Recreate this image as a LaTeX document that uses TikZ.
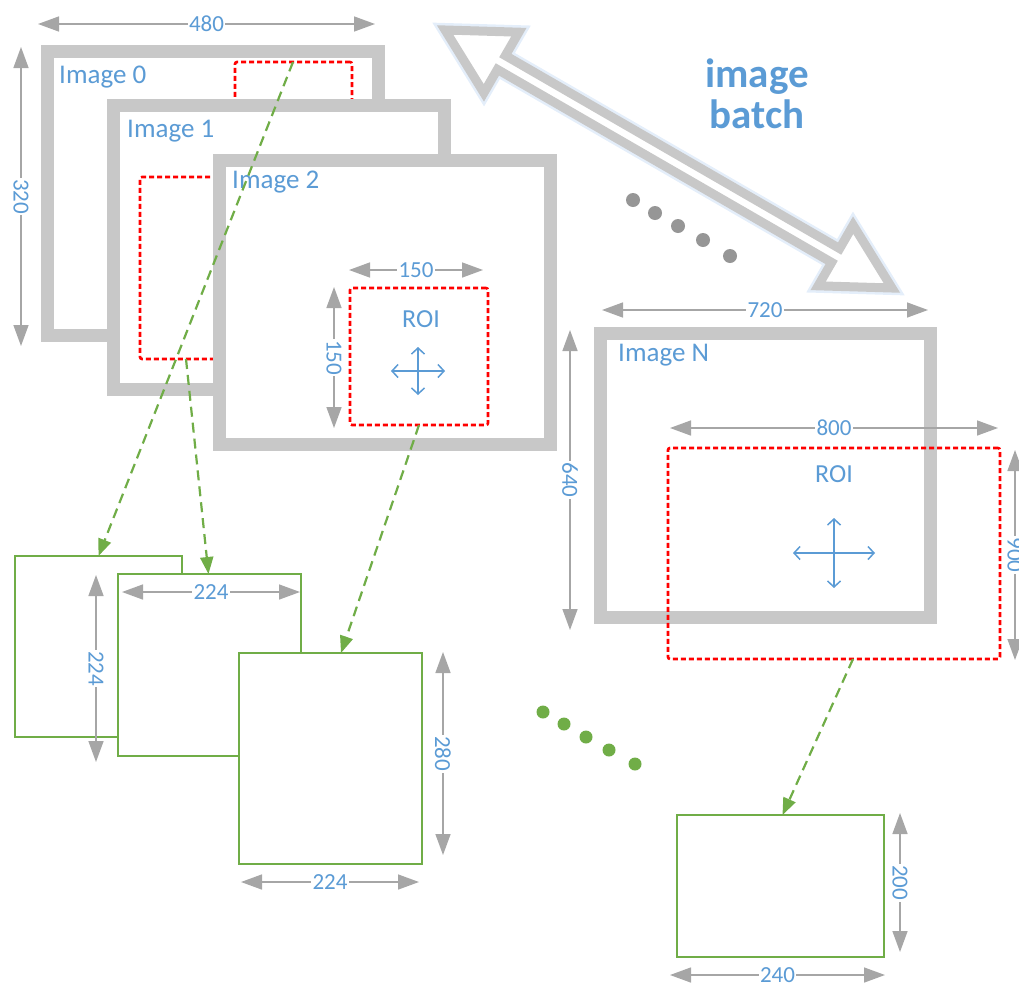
\documentclass[tikz,border=0pt]{standalone}
\usepackage{fontspec}
\setmainfont{Carlito}
\usetikzlibrary{arrows.meta}
\definecolor{framegray}{RGB}{200,200,200}
\definecolor{dimgray}{RGB}{166,166,166}
\definecolor{txtblue}{RGB}{91,155,213}
\definecolor{boxgreen}{RGB}{112,173,71}
\definecolor{roired}{RGB}{255,0,0}
\definecolor{dotgray}{RGB}{150,150,150}
\definecolor{glowblue}{RGB}{228,238,250}
\begin{document}
\begin{tikzpicture}[x=1pt,y=-1pt,
  frame/.style={draw=framegray, line width=13pt, fill=white, minimum width=331pt, minimum height=284pt, inner sep=0pt, outer sep=0pt, shape=rectangle},
  roi/.style={draw=roired, line width=2.6pt, dash pattern=on 5pt off 3pt, rounded corners=2pt, inner sep=0pt, outer sep=0pt, shape=rectangle},
  outbox/.style={draw=boxgreen, line width=2.6pt, fill=white, inner sep=0pt, outer sep=0pt, shape=rectangle},
  dim/.style={draw=dimgray, line width=1.5pt, {Triangle[length=21pt,width=15pt]}-{Triangle[length=21pt,width=15pt]}},
  dimlabel/.style={fill=white, text=txtblue, font=\fontsize{23}{23}\selectfont, inner sep=1.5pt},
  imglabel/.style={text=txtblue, font=\fontsize{27}{27}\selectfont, anchor=base west, inner sep=0pt},
  roilabel/.style={text=txtblue, font=\fontsize{26}{26}\selectfont, anchor=base, inner sep=0pt},
  batchlabel/.style={text=txtblue, font=\fontsize{41}{41}\selectfont\bfseries, anchor=base, inner sep=0pt},
  crop/.style={draw=boxgreen, line width=2.2pt, dash pattern=on 10pt off 6pt, -{Triangle[length=17pt,width=13pt]}},
  movearrow/.style={draw=txtblue, line width=1.5pt, {Straight Barb[length=6pt,width=13pt]}-{Straight Barb[length=6pt,width=13pt]}},
  batcharrow/.style={draw=framegray, line width=9pt, fill=white, line join=miter},
  graydot/.style={fill=dotgray},
  greendot/.style={fill=boxgreen}
]
\useasboundingbox (0,0) rectangle (1019,983);

% ---------- big double arrow (image batch) ----------
\begin{scope}[shift={(668.5,159)}, rotate=-30]
  \draw[draw=glowblue, line width=14pt, line join=miter]
    (-258,0) -- (-193,35) -- (-193,8) -- (193,8) -- (193,35) -- (258,0)
    -- (193,-35) -- (193,-8) -- (-193,-8) -- (-193,-35) -- cycle;
  \draw[batcharrow]
    (-258,0) -- (-193,35) -- (-193,8) -- (193,8) -- (193,35) -- (258,0)
    -- (193,-35) -- (193,-8) -- (-193,-8) -- (-193,-35) -- cycle;
\end{scope}
\node[batchlabel] (batch1) at (757,87) {image};
\node[batchlabel] (batch2) at (757,128) {batch};

% gray dots
\foreach \px/\py in {633/200, 655/213, 678/226, 703/240, 730/256}
  \fill[graydot] (\px,\py) circle (7pt);

% ---------- input images ----------
\node[frame] (img0) at (212.5,193.5) {};
\node[imglabel] (lab0) at (59,83) {Image 0};
\node[roi, minimum width=117pt, minimum height=98pt] (roi0) at (293.5,111) {};

\node[frame] (img1) at (278.5,247) {};
\node[imglabel] (lab1) at (127,137) {Image 1};
\node[roi, minimum width=160pt, minimum height=182pt] (roi1) at (220,268) {};

\node[frame] (img2) at (384.5,302.5) {};
\node[imglabel] (lab2) at (232,188) {Image 2};
\node[roi, minimum width=138pt, minimum height=137pt] (roi2) at (419,356.5) {};
\node[roilabel] (roilab2) at (421,327) {ROI};
\coordinate (mv2) at (418,371);
\draw[movearrow] ([xshift=-27pt]mv2) -- ([xshift=27pt]mv2);
\draw[movearrow] ([yshift=24pt]mv2) -- ([yshift=-24pt]mv2);

% dimensions image 0 / ROI 2
\coordinate (d480a) at (38,24);  \coordinate (d480b) at (375,24);
\draw[dim] (d480a) -- (d480b) node[dimlabel, midway] {480};
\coordinate (d320a) at (21,47);  \coordinate (d320b) at (21,346);
\draw[dim] (d320a) -- (d320b) node[dimlabel, midway, rotate=-90] {320};
\coordinate (d150a) at (349,270); \coordinate (d150b) at (483,270);
\draw[dim] (d150a) -- (d150b) node[dimlabel, midway] {150};
\coordinate (d150c) at (334,287); \coordinate (d150d) at (334,428);
\draw[dim] (d150c) -- (d150d) node[dimlabel, midway, rotate=-90] {150};

% ---------- image N ----------
\node[frame, minimum width=330pt] (imgN) at (765,475) {};
\node[imglabel] (labN) at (618,361) {Image N};
\node[roi, minimum width=332pt, minimum height=211pt] (roiN) at (834,553.5) {};
\node[roilabel] (roilabN) at (834,482) {ROI};
\coordinate (mvN) at (834,553);
\draw[movearrow] ([xshift=-41pt]mvN) -- ([xshift=41pt]mvN);
\draw[movearrow] ([yshift=35pt]mvN) -- ([yshift=-35pt]mvN);

\coordinate (d720a) at (602,310); \coordinate (d720b) at (928,310);
\draw[dim] (d720a) -- (d720b) node[dimlabel, midway] {720};
\coordinate (d640a) at (570,330); \coordinate (d640b) at (570,630);
\draw[dim] (d640a) -- (d640b) node[dimlabel, midway, rotate=-90] {640};
\coordinate (d800a) at (670,428); \coordinate (d800b) at (998,428);
\draw[dim] (d800a) -- (d800b) node[dimlabel, midway] {800};
\coordinate (d900a) at (1015,450); \coordinate (d900b) at (1015,660);
\draw[dim] (d900a) -- (d900b) node[dimlabel, midway, rotate=-90] {900};

% ---------- output boxes ----------
\node[outbox, minimum width=167pt, minimum height=181pt] (g0) at (98.5,646.5) {};
\coordinate (d224a) at (96,575); \coordinate (d224b) at (96,762);
\draw[dim] (d224a) -- (d224b) node[dimlabel, midway, rotate=-90] {224};

\node[outbox, minimum width=183pt, minimum height=182pt] (g1) at (209.5,665) {};
\coordinate (d224c) at (122,592); \coordinate (d224d) at (300,592);
\draw[dim] (d224c) -- (d224d) node[dimlabel, midway] {224};

\node[outbox, minimum width=183pt, minimum height=211pt] (g2) at (330.5,758.5) {};
\coordinate (d280a) at (443,652); \coordinate (d280b) at (443,855);
\draw[dim] (d280a) -- (d280b) node[dimlabel, midway, rotate=-90] {280};
\coordinate (d224e) at (241,882); \coordinate (d224f) at (419,882);
\draw[dim] (d224e) -- (d224f) node[dimlabel, midway] {224};

\node[outbox, minimum width=207pt, minimum height=142pt] (gN) at (780.5,886) {};
\coordinate (d200a) at (900,813); \coordinate (d200b) at (900,952);
\draw[dim] (d200a) -- (d200b) node[dimlabel, midway, rotate=-90] {200};
\coordinate (d240a) at (670,975); \coordinate (d240b) at (885,975);
\draw[dim] (d240a) -- (d240b) node[dimlabel, midway] {240};

% green dots
\foreach \px/\py in {543/712, 564/724, 586/737, 609/750, 635/764}
  \fill[greendot] (\px,\py) circle (6.5pt);

% ---------- crop arrows ----------
\draw[crop] ([xshift=58pt]roi0.north west) -- (g0.north);
\draw[crop] ([xshift=46pt]roi1.south west) -- ([xshift=-1pt]g1.north);
\draw[crop] (roi2.south) -- ([xshift=102pt]g2.north west);
\draw[crop] ([xshift=185pt]roiN.south west) -- ([xshift=2pt]gN.north);
\end{tikzpicture}
\end{document}
